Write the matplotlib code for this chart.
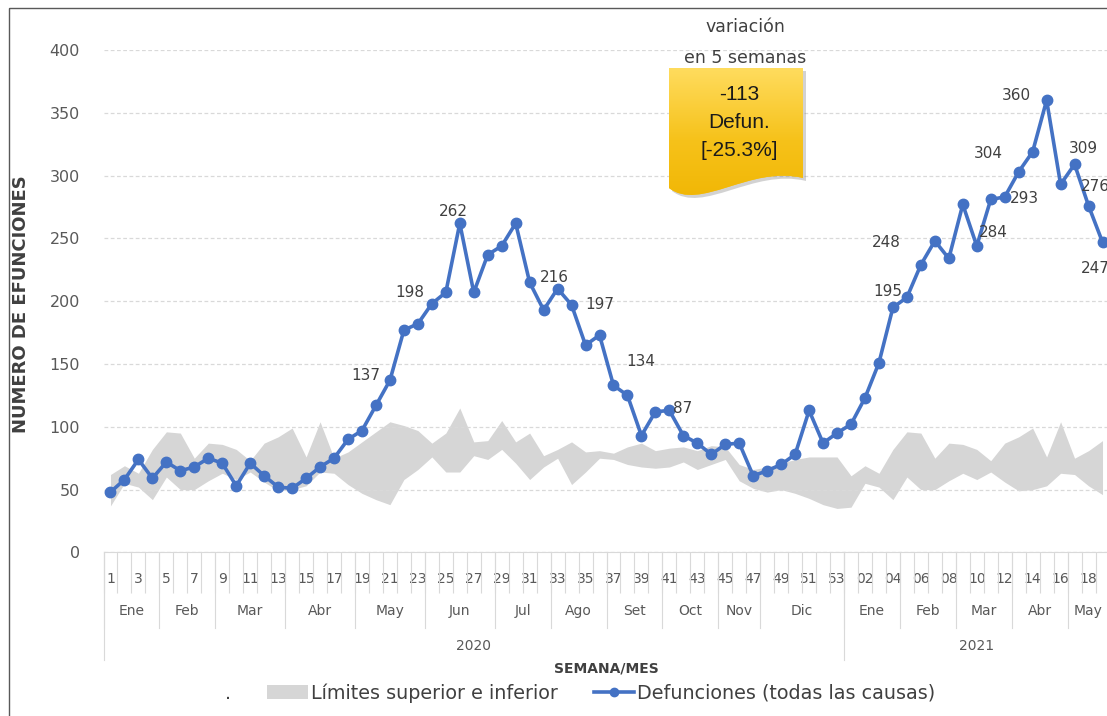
import matplotlib
matplotlib.use('Agg')
import matplotlib.pyplot as plt
import numpy as np
from matplotlib.lines import Line2D
from matplotlib.patches import Patch, PathPatch, Rectangle
from matplotlib.path import Path
from matplotlib.colors import LinearSegmentedColormap

# ---- data ----
weeks_2020 = [str(w) for w in range(1, 54)]
weeks_2021 = ['%02d' % w for w in range(1, 20)]

deaths_2020 = [48, 58, 74, 59, 72, 65, 68, 75, 71, 53,
               71, 61, 52, 51, 59, 68, 75, 90, 97, 117,
               137, 177, 182, 198, 207, 262, 207, 237, 244, 262,
               215, 193, 210, 197, 165, 173, 133, 125, 93, 112,
               113, 93, 87, 78, 86, 87, 61, 65, 70, 78,
               113, 87, 95]
deaths_2021 = [102, 123, 151, 195, 203, 229, 248, 234, 277, 244,
               281, 283, 303, 319, 360, 293, 309, 276, 247]

upper_2020 = [62, 69, 63, 82, 96, 95, 75, 87, 86, 82,
              73, 87, 92, 99, 76, 104, 75, 80, 88, 96,
              104, 101, 97, 87, 95, 115, 88, 89, 105, 88,
              95, 77, 82, 88, 80, 81, 79, 84, 87, 81,
              83, 84, 81, 85, 84, 70, 66, 68, 71, 74,
              76, 76, 76]
lower_2020 = [37, 55, 52, 42, 60, 50, 50, 57, 63, 58,
              64, 56, 49, 50, 53, 64, 63, 54, 47, 42,
              38, 58, 66, 76, 64, 64, 77, 74, 82, 71,
              58, 68, 75, 54, 64, 75, 74, 70, 68, 67,
              68, 72, 66, 70, 74, 57, 51, 48, 50, 47,
              43, 38, 35]
upper_2021 = [61, 69, 63, 82, 96, 95, 75, 87, 86, 82,
              73, 87, 92, 99, 76, 104, 75, 81, 89]
lower_2021 = [36, 55, 52, 42, 60, 50, 50, 57, 63, 58,
              64, 56, 49, 50, 53, 63, 62, 53, 46]

months_2020 = ['Ene', 'Feb', 'Mar', 'Abr', 'May', 'Jun', 'Jul', 'Ago', 'Set', 'Oct', 'Nov', 'Dic']
month_len_2020 = [4, 4, 5, 5, 5, 5, 4, 4, 4, 4, 3, 6]
months_2021 = ['Ene', 'Feb', 'Mar', 'Abr', 'May']
month_len_2021 = [4, 4, 4, 4, 3]
years = ['2020', '2021']

# (index of week in series, label text)
point_labels = [(20, '137'), (23, '198'), (25, '262'), (32, '216'), (33, '197'),
                (36, '134'), (40, '87'), (56, '195'), (59, '248'), (65, '304'),
                (62, '284'), (67, '360'), (68, '293'), (69, '309'), (70, '276'),
                (71, '247')]
# offsets of those labels from their point, in pixels (right, up)
label_offsets = [(-24, 5), (-22, 11), (-6, 12), (-3, 11), (28, 0),
                 (27, 24), (13, 2), (-5, 16), (-49, -2), (-30, 18),
                 (17, 13), (-30, 5), (-36, -14), (9, 16), (7, 19),
                 (-7, -26)]

deaths = deaths_2020 + deaths_2021
upper = upper_2020 + upper_2021
lower = lower_2020 + lower_2021
n = len(deaths)
x = np.arange(n)

W, H = 1107, 716
fig = plt.figure(figsize=(W / 100, H / 100), dpi=100)
ax_left, ax_right, ax_top, ax_bottom = 103.5, 1109.5, 50, 552.4
ax = fig.add_axes([ax_left / W, 1 - ax_bottom / H, (ax_right - ax_left) / W, (ax_bottom - ax_top) / H])

dark = '#404040'
tick_gray = '#595959'
line_gray = '#d9d9d9'
blue = '#4472c4'

ax.fill_between(x, lower, upper, color='#d6d6d6', lw=0, zorder=1)
ax.plot(x, deaths, color=blue, lw=2.6, marker='o', ms=7.5, zorder=3)

for (i, txt), (dx, dy) in zip(point_labels, label_offsets):
    ax.annotate(txt, (x[i], deaths[i]), xytext=(dx * 0.72, dy * 0.72), textcoords='offset points',
                ha='center', va='center', fontsize=11, color=dark, annotation_clip=False)

ax.set_xlim(-0.5, n - 0.5)
ax.set_ylim(0, 400)
ax.set_yticks(range(0, 401, 50))
ax.tick_params(axis='y', length=0, pad=17, labelsize=11.5, labelcolor=tick_gray)
ax.grid(axis='y', color=line_gray, ls=(0, (3, 2)), lw=0.9, zorder=0)
for s in ['top', 'right', 'left']:
    ax.spines[s].set_visible(False)
ax.spines['bottom'].set_color(line_gray)
ax.spines['bottom'].set_zorder(0.5)

# week tick labels (every other category)
week_labels = weeks_2020 + weeks_2021
tick_pos = list(range(0, n, 2))
ax.set_xticks(tick_pos)
ax.set_xticklabels([week_labels[i] for i in tick_pos])
ax.set_xticks(np.arange(-0.5, n, 1), minor=True)
axh = ax_bottom - ax_top
ax.tick_params(axis='x', which='major', length=0, pad=14, labelsize=10, labelcolor=tick_gray)
ax.tick_params(axis='x', which='minor', length=41 * 0.72, color=line_gray, width=0.8)

xt = ax.get_xaxis_transform()
def frac(py):
    return -(py - ax_bottom) / axh

# month row
start = 0
for names, lens in [(months_2020, month_len_2020), (months_2021, month_len_2021)]:
    for name, ln in zip(names, lens):
        ax.text(start + (ln - 1) / 2, frac(611), name, transform=xt, ha='center', va='center',
                fontsize=10, color=tick_gray)
        ax.plot([start - 0.5] * 2, [0, frac(628)], transform=xt, color=line_gray, lw=0.8, clip_on=False)
        start += ln
# year row
year_edges = [0, len(deaths_2020), n]
for k, yr in enumerate(years):
    a, b = year_edges[k], year_edges[k + 1]
    ax.text((a + b - 1) / 2, frac(646), yr, transform=xt, ha='center', va='center',
            fontsize=10, color=tick_gray)
for e in year_edges:
    ax.plot([e - 0.5] * 2, [0, frac(660)], transform=xt, color=line_gray, lw=0.8, clip_on=False)

ax.text(0.5, frac(668), 'SEMANA/MES', transform=ax.transAxes, ha='center', va='center',
        fontsize=10, fontweight='bold', color=dark)
ax.set_ylabel('NUMERO DE EFUNCIONES', fontsize=13, fontweight='bold', color=dark)
ax.yaxis.set_label_coords((30 - ax_left) / (ax_right - ax_left), 0.495)

# legend
handles = [Line2D([], [], alpha=0),
           Patch(facecolor='#d6d6d6', edgecolor='none'),
           Line2D([], [], color=blue, lw=2.6, marker='o', ms=6)]
fig.legend(handles, ['.', 'Límites superior e inferior', 'Defunciones (todas las causas)'],
           loc='center', bbox_to_anchor=(0.5045, 0.032), ncol=3, frameon=False, fontsize=13.8,
           handlelength=2.1, handletextpad=0.15, columnspacing=1.9, labelcolor=dark)

# overlay in pixel coordinates for callout and frame
ov = fig.add_axes([0, 0, 1, 1], zorder=5)
ov.set_xlim(0, W)
ov.set_ylim(H, 0)
ov.axis('off')
ov.add_patch(Rectangle((9, 8), W + 50, H + 50, fill=False, ec='#595959', lw=1))

verts = [(669, 68), (803, 68), (803, 178), (750, 165), (700, 212), (669, 188), (669, 68)]
codes = [Path.MOVETO, Path.LINETO, Path.LINETO, Path.CURVE4, Path.CURVE4, Path.CURVE4, Path.CLOSEPOLY]
shadow = PathPatch(Path([(vx + 3, vy + 3) for vx, vy in verts], codes), fc='#808080', ec='none', alpha=0.35)
ov.add_patch(shadow)
box = PathPatch(Path(verts, codes), fc='#f6c21a', ec='none')
ov.add_patch(box)
grad = np.linspace(0, 1, 256).reshape(-1, 1)
cmap = LinearSegmentedColormap.from_list('yel', ['#ffdc5e', '#f6c21a', '#f0b400'])
im = ov.imshow(grad, cmap=cmap, extent=(669, 803, 212, 68), aspect='auto', zorder=6)
im.set_clip_path(box)
ov.set_xlim(0, W)
ov.set_ylim(H, 0)
ov.text(739, 123, '-113\nDefun.\n[-25.3%]', ha='center', va='center', fontsize=15,
        family='Liberation Sans', color='#1a1a1a', linespacing=1.6, zorder=7)
ov.text(745, 42.5, 'variación\nen 5 semanas', ha='center', va='center', fontsize=12.5,
        color=dark, linespacing=1.95, zorder=7)

fig.savefig('out.png', dpi=100)
